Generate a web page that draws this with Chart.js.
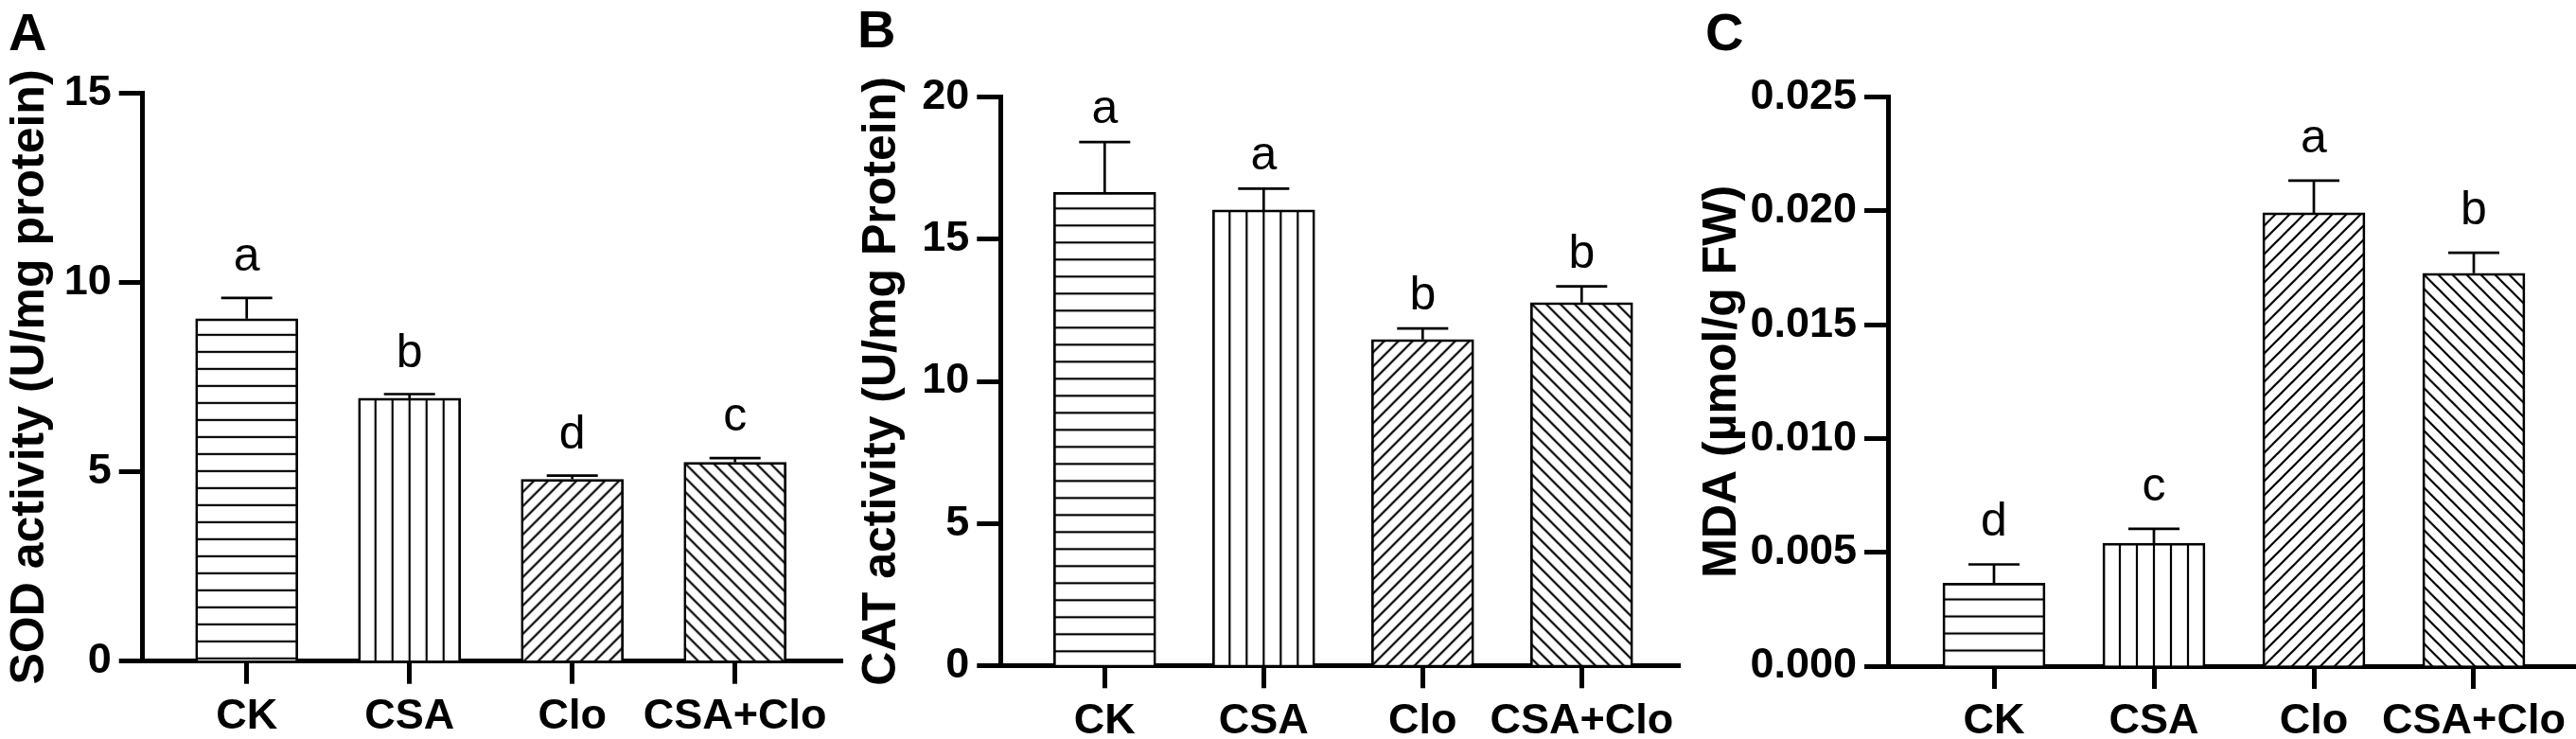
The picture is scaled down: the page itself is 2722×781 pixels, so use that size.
<!DOCTYPE html>
<html>
<head>
<meta charset="utf-8">
<script src="https://cdn.jsdelivr.net/npm/chart.js@4.4.1/dist/chart.umd.min.js"></script>
<style>
html,body{margin:0;padding:0;background:#fff;}
#wrap{position:relative;width:2722px;height:781px;overflow:hidden;background:#fff;}
canvas{position:absolute;top:0;}
</style>
</head>
<body>
<div id="wrap">
<canvas id="cA" width="895" height="781" style="left:0px"></canvas>
<canvas id="cB" width="895" height="781" style="left:895px"></canvas>
<canvas id="cC" width="932" height="781" style="left:1790px"></canvas>
</div>
<script>
// ---------------- data ----------------
const categories = ['CK', 'CSA', 'Clo', 'CSA+Clo'];
const hatchKinds = ['h', 'v', 'up', 'down'];

const sodMeans   = [9.04, 6.94, 4.80, 5.25];
const sodErrors  = [0.55, 0.11, 0.10, 0.11];
const sodLetters = ['a', 'b', 'd', 'c'];
const sodTicks   = [0, 5, 10, 15];
const sodTickLabels = ['0', '5', '10', '15'];

const catMeans   = [16.65, 16.03, 11.47, 12.77];
const catErrors  = [1.77, 0.75, 0.39, 0.57];
const catLetters = ['a', 'a', 'b', 'b'];
const catTicks   = [0, 5, 10, 15, 20];
const catTickLabels = ['0', '5', '10', '15', '20'];

const mdaMeans   = [0.00364, 0.00540, 0.01992, 0.01726];
const mdaErrors  = [0.00083, 0.00063, 0.00141, 0.00090];
const mdaLetters = ['d', 'c', 'a', 'b'];
const mdaTicks   = [0, 0.005, 0.010, 0.015, 0.020, 0.025];
const mdaTickLabels = ['0.000', '0.005', '0.010', '0.015', '0.020', '0.025'];

// ---------------- styling helpers ----------------
Chart.defaults.font.family = '"Liberation Sans", Arial, sans-serif';
Chart.defaults.color = '#000';

const HATCH_LW = 2.2;
function makeTile(kind) {
  const s = (kind === 'h' || kind === 'v') ? 18 : 15;
  const c = document.createElement('canvas');
  c.width = s; c.height = s;
  const g = c.getContext('2d');
  g.fillStyle = '#fff'; g.fillRect(0, 0, s, s);
  g.strokeStyle = '#000'; g.lineWidth = HATCH_LW;
  g.beginPath();
  if (kind === 'h') { g.moveTo(0, s / 2); g.lineTo(s, s / 2); }
  else if (kind === 'v') { g.moveTo(s / 2, 0); g.lineTo(s / 2, s); }
  else if (kind === 'up') {
    g.moveTo(-s / 2, s / 2); g.lineTo(s / 2, -s / 2);
    g.moveTo(0, s); g.lineTo(s, 0);
    g.moveTo(s / 2, 3 * s / 2); g.lineTo(3 * s / 2, s / 2);
  } else {
    g.moveTo(-s / 2, s / 2); g.lineTo(s / 2, 3 * s / 2);
    g.moveTo(0, 0); g.lineTo(s, s);
    g.moveTo(s / 2, -s / 2); g.lineTo(3 * s / 2, s / 2);
  }
  g.stroke();
  return c;
}
const tiles = {};
hatchKinds.forEach(k => tiles[k] = makeTile(k));

const BAR_W = 108;
function hatchFill(ctx) {
  if (ctx.type !== 'data') return '#fff';
  const chart = ctx.chart;
  const xs = chart.scales.x, ys = chart.scales.y;
  if (!xs || !ys || !ctx.parsed) return '#fff';
  const kind = hatchKinds[ctx.dataIndex];
  const left = xs.getPixelForValue(ctx.parsed.x) - BAR_W / 2;
  const top = ys.getPixelForValue(ctx.parsed.y);
  const p = chart.ctx.createPattern(tiles[kind], 'repeat');
  let tx = left, ty = top;
  if (kind === 'h') { tx = 0; ty = top + 8; }
  else if (kind === 'v') { tx = left - 9; ty = 0; }
  p.setTransform(new DOMMatrix([1, 0, 0, 1, tx, ty]));
  return p;
}

const errorBarPlugin = {
  id: 'errbars',
  afterDatasetsDraw(chart, args, opts) {
    const ctx = chart.ctx;
    const xs = chart.scales.x, ys = chart.scales.y;
    const ds = chart.data.datasets[0];
    ctx.save();
    ctx.strokeStyle = '#000';
    ctx.lineWidth = 2.7;
    ctx.lineCap = 'butt';
    ctx.font = '50px "Liberation Sans", Arial, sans-serif';
    ctx.fillStyle = '#000';
    ctx.textAlign = 'center';
    ctx.textBaseline = 'alphabetic';
    opts.errors.forEach((e, i) => {
      const v = ds.data[i].y;
      const x = xs.getPixelForValue(ds.data[i].x);
      const y0 = ys.getPixelForValue(v);
      const y1 = ys.getPixelForValue(v + e);
      ctx.beginPath();
      ctx.moveTo(x, y0); ctx.lineTo(x, y1);
      ctx.moveTo(x - 27, y1); ctx.lineTo(x + 27, y1);
      ctx.stroke();
      ctx.fillText(opts.letters[i], x, y1 - opts.gap);
    });
    ctx.restore();
  }
};

function makePanel(id, p) {
  const areaW = p.canvasW - p.padL - p.padR - p.yW;
  const xMin = -p.firstOffset / p.spacing;
  const xMax = xMin + areaW / p.spacing;
  const tickFont = { size: 45, weight: 'bold' };
  new Chart(document.getElementById(id), {
    type: 'bar',
    data: {
      datasets: [{
        data: p.means.map((v, i) => ({ x: i, y: v })),
        backgroundColor: hatchFill,
        borderColor: '#000',
        borderWidth: 2.7,
        barThickness: BAR_W
      }]
    },
    options: {
      responsive: false,
      animation: false,
      devicePixelRatio: 1,
      layout: { padding: { left: p.padL, right: p.padR, top: 0, bottom: 0 } },
      plugins: {
        legend: { display: false },
        tooltip: { enabled: false },
        title: {
          display: true, text: p.panel, align: 'start', color: '#000',
          font: { size: 56, weight: 'bold', lineHeight: 1 },
          padding: { top: p.letterTop, bottom: p.letterBottom }
        },
        errbars: { errors: p.errors, letters: p.letters, gap: p.gap }
      },
      scales: {
        x: {
          type: 'linear', offset: false, min: xMin, max: xMax, z: 1,
          afterBuildTicks: s => { s.ticks = categories.map((c, i) => ({ value: i })); },
          afterFit: s => { s.height = p.xH; },
          grid: { display: true, offset: false, drawOnChartArea: false, drawTicks: true,
                  tickLength: 24, tickWidth: 5, tickColor: '#000' },
          border: { display: true, width: 5, color: '#000' },
          ticks: { font: tickFont, color: '#000', padding: 8, autoSkip: false, maxRotation: 0,
                   callback: v => categories[Math.round(v)] }
        },
        y: {
          type: 'linear', min: 0, max: p.ticks[p.ticks.length - 1], z: 1,
          afterBuildTicks: s => { s.ticks = p.ticks.map(v => ({ value: v })); },
          afterFit: s => { s.width = p.yW; },
          grid: { display: true, drawOnChartArea: false, drawTicks: true,
                  tickLength: 25, tickWidth: 5, tickColor: '#000' },
          border: { display: true, width: 5, color: '#000' },
          ticks: { font: tickFont, color: '#000', padding: 8,
                   callback: (v, i) => p.tickLabels[i] },
          title: { display: true, text: p.yTitle, color: '#000',
                   font: { size: 50, weight: 'bold', lineHeight: p.titleLH },
                   padding: { top: 0, bottom: 0 } }
        }
      }
    },
    plugins: [errorBarPlugin]
  });
}

makePanel('cA', {
  panel: 'A', yTitle: 'SOD activity (U/mg protein)',
  means: sodMeans, errors: sodErrors, letters: sodLetters,
  ticks: sodTicks, tickLabels: sodTickLabels,
  canvasW: 895, padL: 9, padR: 5, yW: 141.7, xH: 82.3,
  firstOffset: 110, spacing: 172,
  letterTop: 10, letterBottom: 32.3, titleLH: 0.92, gap: 29
});
makePanel('cB', {
  panel: 'B', yTitle: 'CAT activity (U/mg Protein)',
  means: catMeans, errors: catErrors, letters: catLetters,
  ticks: catTicks, tickLabels: catTickLabels,
  canvasW: 895, padL: 11, padR: 15, yW: 151.3, xH: 77.7,
  firstOffset: 110, spacing: 168,
  letterTop: 7, letterBottom: 39.7, titleLH: 1.04, gap: 20
});
makePanel('cC', {
  panel: 'C', yTitle: 'MDA (µmol/g FW)',
  means: mdaMeans, errors: mdaErrors, letters: mdaLetters,
  ticks: mdaTicks, tickLabels: mdaTickLabels,
  canvasW: 932, padL: 12, padR: 0, yW: 193, xH: 77,
  firstOffset: 112, spacing: 169,
  letterTop: 9.5, letterBottom: 37.2, titleLH: 0.74, gap: 30
});
</script>
</body>
</html>
